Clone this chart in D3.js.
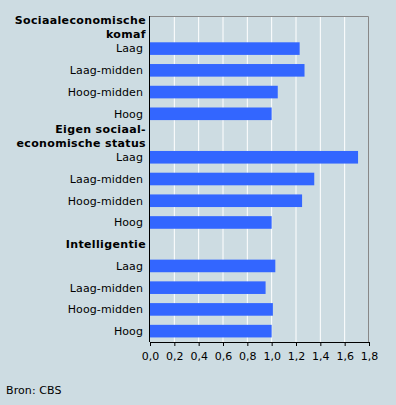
<!DOCTYPE html>
<html>
<head>
<meta charset="utf-8">
<script src="https://cdn.jsdelivr.net/npm/d3@7"></script>
<style>
  body { margin: 0; background: #cddce2; }
  svg { display: block; font-family: "DejaVu Sans", Verdana, sans-serif; }
</style>
</head>
<body>
<div id="wrapper"></div>
<script>
// rows top to bottom; headers have no value
const rowLabels = [
    "Sociaaleconomische|komaf", "Laag", "Laag-midden", "Hoog-midden", "Hoog",
    "Eigen sociaal-|economische status", "Laag", "Laag-midden", "Hoog-midden", "Hoog",
    "Intelligentie", "Laag", "Laag-midden", "Hoog-midden", "Hoog"
];
const isHeader = [true, false, false, false, false, true, false, false, false, false, true, false, false, false, false];
const values = [null, 1.23, 1.27, 1.05, 1.0, null, 1.71, 1.35, 1.25, 1.0, null, 1.03, 0.95, 1.01, 1.0];
const xTicks = [0, 0.2, 0.4, 0.6, 0.8, 1.0, 1.2, 1.4, 1.6, 1.8];

const dimension = {
    width: 396,
    height: 405,
    margin: { top: 16, left: 150, bottom: 63, right: 27 }
};
dimension.boundedWidth = dimension.width - dimension.margin.left - dimension.margin.right;
dimension.boundedHeight = dimension.height - dimension.margin.top - dimension.margin.bottom;

const rows = rowLabels.map((label, i) => ({ i, label, header: isHeader[i], value: values[i] }));

const wrapper = d3.select("#wrapper")
    .append("svg")
    .attr("width", dimension.width)
    .attr("height", dimension.height);

wrapper.append("rect")
    .attr("width", dimension.width)
    .attr("height", dimension.height)
    .attr("fill", "#cddce2");

const bounds = wrapper.append("g")
    .attr("transform", `translate(${dimension.margin.left},${dimension.margin.top})`);

const xScaler = d3.scaleLinear()
    .domain([0, 1.8])
    .range([0, dimension.boundedWidth]);

const yScaler = d3.scaleBand()
    .domain(rows.map(d => d.i))
    .range([0, dimension.boundedHeight])
    .paddingInner(0.42)
    .paddingOuter(0.21);

// gridlines
bounds.append("g")
    .selectAll("line")
    .data(xTicks.slice(1, -1))
    .enter()
    .append("line")
    .attr("x1", d => xScaler(d))
    .attr("x2", d => xScaler(d))
    .attr("y1", 0)
    .attr("y2", dimension.boundedHeight)
    .attr("stroke", "white")
    .attr("stroke-width", 1);

// grey frame top/right
bounds.append("path")
    .attr("d", `M0,0.5H${dimension.boundedWidth - 0.5}V${dimension.boundedHeight}`)
    .attr("fill", "none")
    .attr("stroke", "#888888");

// bars
bounds.append("g")
    .selectAll("rect")
    .data(rows.filter(d => !d.header))
    .enter()
    .append("rect")
    .attr("x", 0)
    .attr("y", d => yScaler(d.i))
    .attr("width", d => xScaler(d.value))
    .attr("height", yScaler.bandwidth())
    .attr("fill", "#3366ff");

// x axis
const xAxisGen = d3.axisBottom(xScaler)
    .tickValues(xTicks)
    .tickSize(4)
    .tickSizeOuter(0)
    .tickFormat(d => d3.format(".1f")(d).replace(".", ","));

const xAxis = bounds.append("g")
    .attr("transform", `translate(0,${dimension.boundedHeight})`)
    .call(xAxisGen);
xAxis.select(".domain").attr("stroke", "black");
xAxis.selectAll(".tick line").attr("stroke", "black");
xAxis.selectAll(".tick text")
    .attr("fill", "black")
    .attr("font-size", "11px")
    .attr("font-family", "DejaVu Sans, Verdana, sans-serif")
    .attr("y", 10);

// y axis line
bounds.append("line")
    .attr("x1", -0.5)
    .attr("x2", -0.5)
    .attr("y1", 0)
    .attr("y2", dimension.boundedHeight)
    .attr("stroke", "black");

// category labels
const labels = bounds.append("g")
    .selectAll("text")
    .data(rows)
    .enter()
    .append("text")
    .attr("text-anchor", "end")
    .attr("font-size", "11px")
    .attr("font-weight", d => d.header ? "bold" : "normal")
    .attr("letter-spacing", d => d.header ? "0.35px" : "0.1px")
    .attr("fill", "black")
    .attr("x", d => d.header ? -4 : -7)
    .attr("y", d => yScaler(d.i) + yScaler.bandwidth() / 2);

labels.each(function(d) {
    const lines = d.label.split("|");
    const el = d3.select(this);
    lines.forEach((line, k) => {
        el.append("tspan")
            .attr("x", d.header ? -4 : -7)
            .attr("dy", k === 0 ? `${0.35 - (lines.length - 1) * 0.6}em` : "1.25em")
            .text(line);
    });
});

wrapper.append("text")
    .attr("x", 6)
    .attr("y", 394)
    .attr("font-size", "11px")
    .attr("letter-spacing", "0.1px")
    .attr("fill", "black")
    .text("Bron: CBS");
</script>
</body>
</html>
